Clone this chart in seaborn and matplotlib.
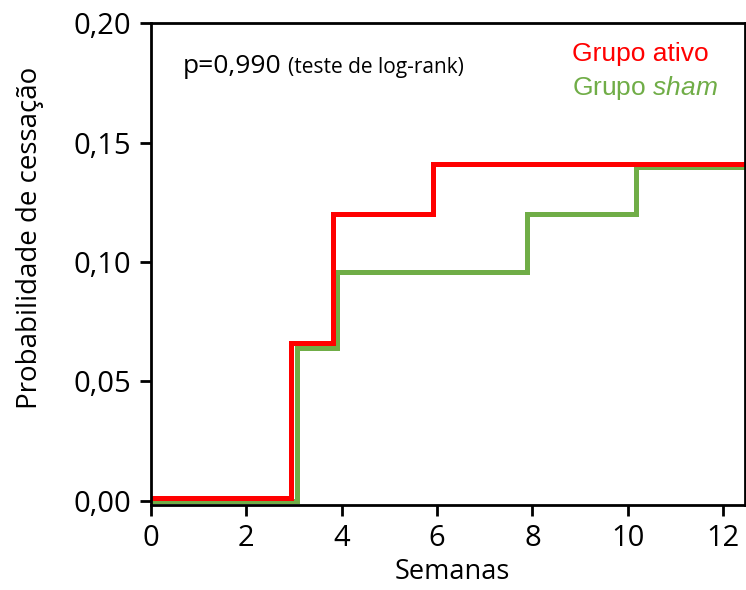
import matplotlib
matplotlib.use("Agg")
import matplotlib.pyplot as plt
import matplotlib.ticker as mticker
import seaborn as sns
import pandas as pd

# ---- data ----
grupos = ["Grupo sham", "Grupo ativo"]
tempo_ativo = [0.0, 2.93, 3.81, 5.91, 12.5]
prob_ativo = [0.001, 0.066, 0.120, 0.141, 0.141]
tempo_sham = [0.0, 3.06, 3.91, 7.89, 10.18, 12.5]
prob_sham = [0.000, 0.064, 0.096, 0.120, 0.140, 0.140]
x_ticks = [0, 2, 4, 6, 8, 10, 12]
y_ticks = [0.00, 0.05, 0.10, 0.15, 0.20]
cores = {"Grupo ativo": "#FF0000", "Grupo sham": "#70AD47"}

df = pd.concat([
    pd.DataFrame({"Semanas": tempo_sham, "Prob": prob_sham, "Grupo": "Grupo sham"}),
    pd.DataFrame({"Semanas": tempo_ativo, "Prob": prob_ativo, "Grupo": "Grupo ativo"}),
], ignore_index=True)

sns.set_theme(style="ticks")
plt.rcParams["font.family"] = ["Open Sans", "DejaVu Sans"]
plt.rcParams["text.color"] = "black"
plt.rcParams["axes.labelcolor"] = "black"
plt.rcParams["mathtext.fontset"] = "custom"
plt.rcParams["mathtext.rm"] = "Liberation Sans"
plt.rcParams["mathtext.it"] = "Liberation Sans:italic"

fig = plt.figure(figsize=(7.46, 5.90), dpi=100)
ax = fig.add_axes([151 / 746, 1 - 505 / 590, 594 / 746, 481.7 / 590])

sns.lineplot(data=df, x="Semanas", y="Prob", hue="Grupo", hue_order=grupos,
             palette=cores, estimator=None, sort=False, drawstyle="steps-post",
             linewidth=3.6, legend=False, ax=ax, solid_joinstyle="miter")

ax.set_xlim(0, 12.46)
ax.set_ylim(-0.0018, 0.2)
ax.set_xticks(x_ticks)
ax.set_yticks(y_ticks)
ax.yaxis.set_major_formatter(mticker.FuncFormatter(lambda v, p: f"{v:.2f}".replace(".", ",")))
ax.tick_params(axis="both", length=8, width=2, labelsize=21, color="black", labelcolor="black")
ax.tick_params(axis="x", pad=6)
ax.tick_params(axis="y", pad=6)
for s in ax.spines.values():
    s.set_linewidth(2)
    s.set_color("black")
    s.set_visible(True)

ax.set_xlabel("Semanas", fontsize=19.5)
ax.set_ylabel("Probabilidade de cessação", fontsize=20)
ax.xaxis.set_label_coords(0.508, -0.140)
ax.xaxis.label.set_va("center")
ax.yaxis.set_label_coords(-0.204, 0.554)
ax.yaxis.label.set_va("center")

ax.text(0.054, 0.896, "p=0,990", transform=ax.transAxes, fontsize=19, ha="left", va="baseline")
ax.text(0.231, 0.896, "(teste de log-rank)", transform=ax.transAxes, fontsize=15, ha="left", va="baseline")

ax.text(0.708, 0.922, "Grupo ativo", transform=ax.transAxes, fontsize=19,
        family="Liberation Sans", color=cores["Grupo ativo"], ha="left", va="baseline")
ax.text(0.708, 0.851, r"Grupo $\mathit{sham}$", transform=ax.transAxes, fontsize=19,
        family="Liberation Sans", color=cores["Grupo sham"], ha="left", va="baseline")

fig.savefig("out.png", dpi=100)
